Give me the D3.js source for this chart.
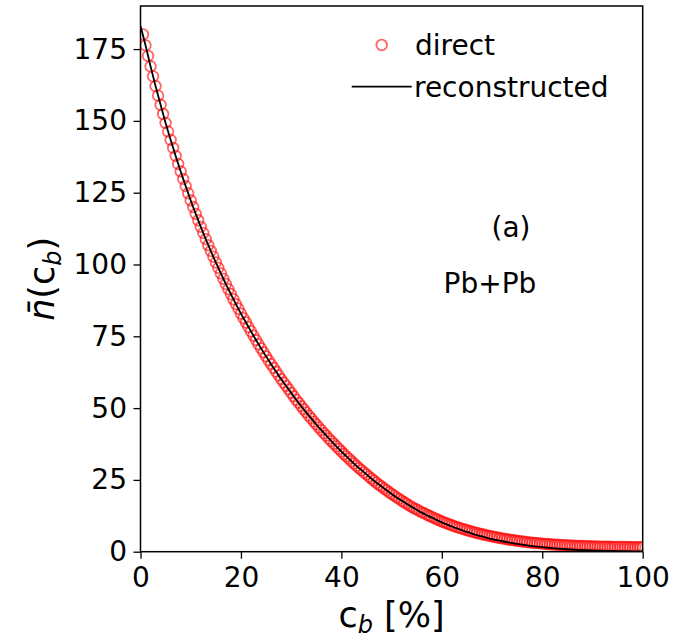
<!DOCTYPE html>
<html>
<head>
<meta charset="utf-8">
<script src="https://cdn.jsdelivr.net/npm/d3@7"></script>
<style>
body { margin: 0; background: #fff; }
text { font-family: "DejaVu Sans", sans-serif; fill: #000; }
</style>
</head>
<body>
<div id="chart"></div>
<script>
const width = 674;
const height = 640;
const margin = {top: 6, right: 31.3, bottom: 88.3, left: 140.5};
const innerW = width - margin.left - margin.right;
const innerH = height - margin.top - margin.bottom;

// DATA
// direct: one point every 0.5 % of centrality (0.5 ... 100)
const directC = d3.range(1, 201).map(i => i * 0.5);
const directN = [
  180.1, 176.3, 172.6, 169.0, 165.5, 162.1, 158.8, 155.6, 152.4, 149.3,
  146.3, 143.4, 140.6, 137.8, 135.0, 132.4, 129.8, 127.3, 124.8, 122.3,
  120.0, 117.6, 115.4, 113.1, 111.0, 108.8, 106.7, 104.7, 102.7, 100.7,
  98.8, 96.9, 95.0, 93.2, 91.4, 89.7, 87.9, 86.2, 84.6, 82.9,
  81.3, 79.8, 78.2, 76.7, 75.2, 73.7, 72.2, 70.8, 69.4, 68.0,
  66.6, 65.3, 64.0, 62.7, 61.4, 60.1, 58.9, 57.7, 56.5, 55.3,
  54.1, 52.9, 51.8, 50.7, 49.6, 48.5, 47.4, 46.4, 45.3, 44.3,
  43.3, 42.3, 41.3, 40.4, 39.4, 38.5, 37.6, 36.7, 35.8, 34.9,
  34.0, 33.2, 32.4, 31.5, 30.7, 29.9, 29.1, 28.4, 27.6, 26.9,
  26.1, 25.4, 24.7, 24.0, 23.3, 22.7, 22.0, 21.4, 20.7, 20.1,
  19.5, 18.9, 18.4, 17.8, 17.2, 16.7, 16.1, 15.6, 15.1, 14.7,
  14.2, 13.7, 13.4, 12.9, 12.5, 12.1, 11.7, 11.3, 10.9, 10.5,
  10.18, 9.84, 9.51, 9.19, 8.88, 8.58, 8.29, 8.01, 7.74, 7.47,
  7.22, 6.98, 6.74, 6.51, 6.29, 6.08, 5.88, 5.68, 5.49, 5.31,
  5.13, 4.96, 4.79, 4.63, 4.47, 4.32, 4.18, 4.05, 3.92, 3.80,
  3.68, 3.56, 3.45, 3.34, 3.24, 3.14, 3.06, 2.97, 2.89, 2.81,
  2.73, 2.66, 2.59, 2.52, 2.46, 2.40, 2.35, 2.29, 2.25, 2.20,
  2.16, 2.11, 2.07, 2.03, 2.00, 1.96, 1.94, 1.91, 1.88, 1.85,
  1.82, 1.81, 1.78, 1.77, 1.74, 1.72, 1.71, 1.69, 1.68, 1.67,
  1.65, 1.65, 1.63, 1.63, 1.62, 1.61, 1.61, 1.60, 1.60, 1.59
];

// reconstructed: one value per 1 % (0 ... 100)
const reconC = d3.range(0, 101);
const reconN = [
  183.0, 176.3, 169.0, 162.1, 155.6, 149.3, 143.4, 137.8, 132.4, 127.3,
  122.3, 117.6, 113.1, 108.8, 104.7, 100.7, 96.9, 93.2, 89.7, 86.2,
  82.9, 79.8, 76.7, 73.7, 70.8, 68.0, 65.3, 62.7, 60.1, 57.7,
  55.3, 52.9, 50.7, 48.5, 46.4, 44.3, 42.3, 40.4, 38.5, 36.7,
  34.9, 33.2, 31.5, 29.9, 28.4, 26.9, 25.4, 24.0, 22.7, 21.4,
  20.1, 18.9, 17.8, 16.7, 15.6, 14.6, 13.6, 12.7, 11.9, 11.0,
  10.2, 9.48, 8.77, 8.10, 7.47, 6.87, 6.32, 5.79, 5.30, 4.84,
  4.41, 4.02, 3.65, 3.30, 2.99, 2.70, 2.43, 2.18, 1.95, 1.75,
  1.56, 1.39, 1.23, 1.09, 0.96, 0.85, 0.75, 0.65, 0.57, 0.50,
  0.43, 0.38, 0.33, 0.28, 0.24, 0.21, 0.18, 0.15, 0.13, 0.11,
  0.09
];

const xTicks = [0, 20, 40, 60, 80, 100];
const yTicks = [0, 25, 50, 75, 100, 125, 150, 175];

const direct = directC.map((c, i) => ({c: c, n: directN[i]}));
const recon = reconC.map((c, i) => ({c: c, n: reconN[i]}));

// SCALES
const xScale = d3.scaleLinear().domain([0, 100]).range([0, innerW]);
const yScale = d3.scaleLinear().domain([0, 190]).range([innerH, 0]);

const svg = d3.select("#chart")
  .append("svg")
  .attr("width", width)
  .attr("height", height);

svg.append("defs").append("clipPath")
  .attr("id", "plotclip")
  .append("rect")
  .attr("width", innerW)
  .attr("height", innerH);

const g = svg.append("g")
  .attr("transform", `translate(${margin.left},${margin.top})`);

// direct points
g.append("g")
  .attr("clip-path", "url(#plotclip)")
  .selectAll("circle")
  .data(direct)
  .join("circle")
  .attr("cx", d => xScale(d.c))
  .attr("cy", d => yScale(d.n))
  .attr("r", 5.3)
  .attr("fill", "none")
  .attr("stroke", "#ff0000")
  .attr("stroke-opacity", 0.6)
  .attr("stroke-width", 1.8);

// reconstructed line
const line = d3.line()
  .x(d => xScale(d.c))
  .y(d => yScale(d.n))
  .curve(d3.curveMonotoneX);

g.append("path")
  .datum(recon)
  .attr("clip-path", "url(#plotclip)")
  .attr("d", line)
  .attr("fill", "none")
  .attr("stroke", "#000")
  .attr("stroke-width", 1.8);

// AXES
const xAxis = g.append("g")
  .attr("transform", `translate(0,${innerH})`)
  .call(d3.axisBottom(xScale).tickValues(xTicks).tickSize(7).tickPadding(8.3).tickSizeOuter(0));

const yAxis = g.append("g")
  .call(d3.axisLeft(yScale).tickValues(yTicks).tickSize(7).tickPadding(6.5).tickSizeOuter(0));

[xAxis, yAxis].forEach(ax => {
  ax.attr("font-size", 28).attr("font-family", "DejaVu Sans");
  ax.select(".domain").remove();
  ax.selectAll(".tick line").attr("stroke", "#000").attr("stroke-width", 1.3);
  ax.selectAll(".tick text").attr("fill", "#000");
});

// frame
g.append("rect")
  .attr("width", innerW)
  .attr("height", innerH)
  .attr("fill", "none")
  .attr("stroke", "#000")
  .attr("stroke-width", 1.5);

// axis labels
const xLab = svg.append("text")
  .attr("x", margin.left + innerW / 2)
  .attr("y", 627)
  .attr("text-anchor", "middle")
  .attr("font-size", 35);
xLab.append("tspan").text("c");
xLab.append("tspan").attr("font-style", "italic").attr("font-size", 24).attr("dy", 6).text("b");
xLab.append("tspan").attr("dy", -6).text(" [%]");

const yLab = svg.append("text")
  .attr("transform", `translate(54,${margin.top + innerH / 2}) rotate(-90)`)
  .attr("text-anchor", "middle")
  .attr("font-size", 35);
yLab.append("tspan").attr("font-style", "italic").text("n\u0304");
yLab.append("tspan").text("(c");
yLab.append("tspan").attr("font-style", "italic").attr("font-size", 24).attr("dy", 7).text("b");
yLab.append("tspan").attr("dy", -7).text(")");

// annotations
svg.append("text").attr("x", 511).attr("y", 237).attr("text-anchor", "middle")
  .attr("font-size", 28).text("(a)");
svg.append("text").attr("x", 490).attr("y", 293).attr("text-anchor", "middle")
  .attr("font-size", 28).text("Pb+Pb");

// legend
const legend = svg.append("g");
legend.append("circle")
  .attr("cx", 381.7).attr("cy", 45).attr("r", 5.3)
  .attr("fill", "none").attr("stroke", "#ff0000").attr("stroke-opacity", 0.6).attr("stroke-width", 1.8);
legend.append("text").attr("x", 415).attr("y", 55).attr("font-size", 28).text("direct");
legend.append("line")
  .attr("x1", 351.7).attr("x2", 411.7).attr("y1", 86.7).attr("y2", 86.7)
  .attr("stroke", "#000").attr("stroke-width", 1.8);
legend.append("text").attr("x", 414).attr("y", 97).attr("font-size", 28).text("reconstructed");
</script>
</body>
</html>
